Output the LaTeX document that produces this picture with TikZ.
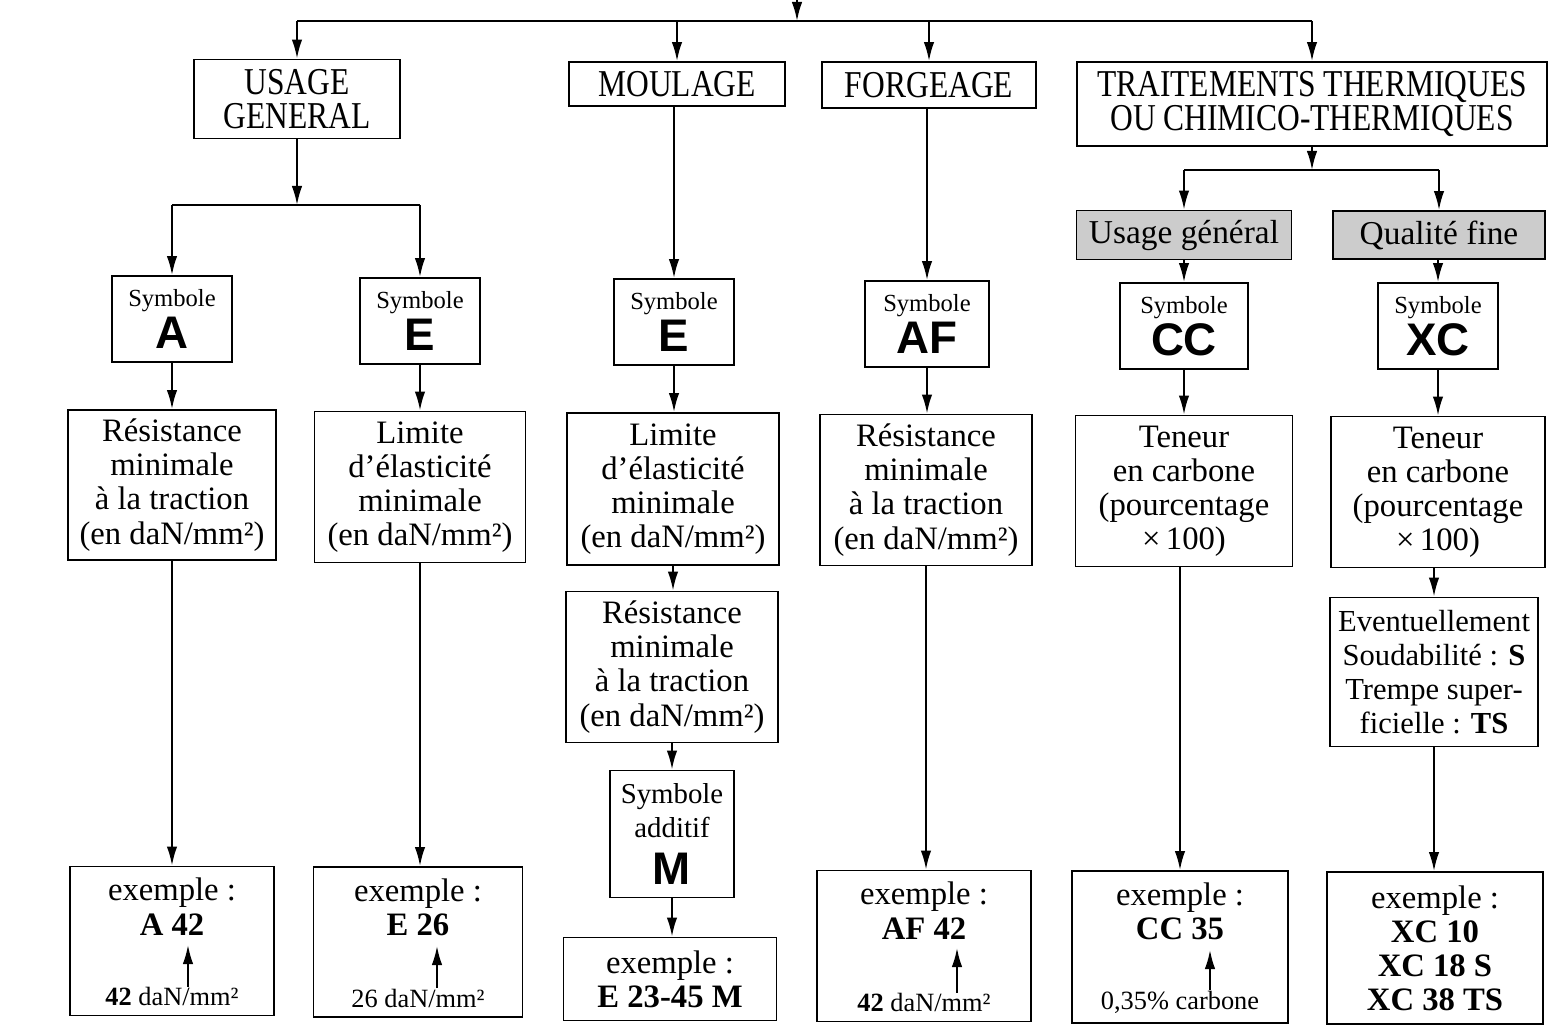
\documentclass[tikz,border=0pt]{standalone}
\usepackage{fontspec}
\setmainfont{Liberation Serif}
\setsansfont{Liberation Sans}
\newfontfamily\condfont{Liberation Serif}[FakeStretch=0.83]
\usetikzlibrary{arrows.meta,positioning}

\newcommand{\symb}[1]{{\fontsize{13}{12}\selectfont\sffamily\bfseries #1}}

\begin{document}
\begin{tikzpicture}[x=0.1mm,y=-0.1mm,
    box/.style={draw, line width=0.55pt, align=center, inner sep=0pt, font=\fontsize{9.3}{9.7}\selectfont},
    headbox/.style={box, font=\condfont\fontsize{10.8}{9.7}\selectfont},
    symbox/.style={box, minimum width=12mm, minimum height=8.6mm, font=\fontsize{7}{12}\selectfont},
    greybox/.style={box, fill=black!20, font=\fontsize{9.5}{10}\selectfont},
    txt/.style={align=center, inner sep=0pt, font=\fontsize{9.3}{9.7}\selectfont},
    note/.style={inner sep=0pt, font=\fontsize{7.5}{9}\selectfont},
    arr/.style={-{Latex[length=1.9mm,width=1.05mm]}, line width=0.55pt},
    bus/.style={line width=0.55pt}]
      \useasboundingbox (0,0) rectangle (1548,1033);

      % Top level
      \coordinate (src) at (797,0);
      \coordinate (topbus) at (797,21);
      \node[headbox, minimum width=20.6mm, minimum height=7.9mm] (usage) at (297,99) {USAGE\\GENERAL};
      \node[headbox, minimum width=21.6mm, minimum height=4.4mm] (moulage) at (677,84) {MOULAGE};
      \node[headbox, minimum width=21.4mm, minimum height=4.6mm] (forgeage) at (929,85) {FORGEAGE};
      \node[headbox, minimum width=47mm, minimum height=8.4mm] (traitement) at (1312,104) {TRAITEMENTS THERMIQUES\\OU CHIMICO-THERMIQUES};

      \draw[arr] (src) -- (topbus);
      \draw[bus] (usage.north |- topbus) -- (traitement.north |- topbus);
      \foreach \n in {usage,moulage,forgeage,traitement}
        \draw[arr] (\n.north |- topbus) -- (\n.north);

      % Traitements split
      \coordinate (tbus) at (1312,170);
      \node[greybox, minimum width=21.5mm, minimum height=4.9mm] (ugen) at (1184,235) {Usage général};
      \node[greybox, minimum width=21.2mm, minimum height=4.8mm] (qfine) at (1439,235) {Qualité fine};
      \draw[arr] (traitement.south) -- (tbus);
      \draw[bus] (ugen.north |- tbus) -- (qfine.north |- tbus);
      \draw[arr] (ugen.north |- tbus) -- (ugen.north);
      \draw[arr] (qfine.north |- tbus) -- (qfine.north);

      % Symbol boxes
      \coordinate (ubus) at (297,205);
      \node[symbox] (symA) at (172,319) {Symbole\\\symb{A}};
      \node[symbox] (symE) at (420,321) {Symbole\\\symb{E}};
      \node[symbox] (symEm) at (674,322) {Symbole\\\symb{E}};
      \node[symbox, minimum width=12.4mm] (symAF) at (927,324) {Symbole\\\symb{AF}};
      \node[symbox, minimum width=12.8mm] (symCC) at (1184,326) {Symbole\\\symb{CC}};
      \node[symbox] (symXC) at (1438,326) {Symbole\\\symb{XC}};

      \draw[arr] (usage.south) -- (ubus);
      \draw[bus] (symA.north |- ubus) -- (symE.north |- ubus);
      \draw[arr] (symA.north |- ubus) -- (symA.north);
      \draw[arr] (symE.north |- ubus) -- (symE.north);
      \draw[arr] (moulage.south -| symEm) -- (symEm.north);
      \draw[arr] (forgeage.south -| symAF) -- (symAF.north);
      \draw[arr] (ugen.south) -- (symCC.north);
      \draw[arr] (qfine.south -| symXC) -- (symXC.north);

      % Second row
      \node[box, minimum width=20.8mm, minimum height=15mm] (resA) at (172,485) {Résistance\\minimale\\à la traction\\(en daN/mm²)};
      \node[box, minimum width=21.1mm, minimum height=15.1mm] (limE) at (420,487) {Limite\\d’élasticité\\minimale\\(en daN/mm²)};
      \node[box, minimum width=21.2mm, minimum height=15.2mm] (limEm) at (673,489) {Limite\\d’élasticité\\minimale\\(en daN/mm²)};
      \node[box, minimum width=21.2mm, minimum height=15.1mm] (resAF) at (926,490) {Résistance\\minimale\\à la traction\\(en daN/mm²)};
      \node[box, minimum width=21.7mm, minimum height=15.1mm] (tenCC) at (1184,491) {Teneur\\en carbone\\(pourcentage\\×\,100)};
      \node[box, minimum width=21.4mm, minimum height=15.1mm] (tenXC) at (1438,492) {Teneur\\en carbone\\(pourcentage\\×\,100)};

      \foreach \a/\b in {symA/resA,symE/limE,symEm/limEm,symAF/resAF,symCC/tenCC,symXC/tenXC}
        \draw[arr] (\a.south) -- (\a.south |- \b.north);

      % Moulage and XC columns
      \node[box, minimum width=21.2mm, minimum height=15.1mm] (resEm) at (672,667) {Résistance\\minimale\\à la traction\\(en daN/mm²)};
      \node[box, minimum width=12.4mm, minimum height=12.7mm, font=\fontsize{8.2}{9.7}\selectfont] (addM) at (672,834) {Symbole\\additif\\[1.3mm]\symb{M}};
      \node[box, minimum width=20.8mm, minimum height=14.9mm, font=\fontsize{8.7}{9.7}\selectfont] (evXC) at (1434,672) {Eventuellement\\Soudabilité : \textbf{S}\\Trempe super-\\ficielle : \textbf{TS}};

      \draw[arr] (limEm.south) -- (limEm.south |- resEm.north);
      \draw[arr] (resEm.south) -- (resEm.south |- addM.north);
      \draw[arr] (tenXC.south -| evXC) -- (evXC.north);

      % Examples
      \node[box, minimum width=20.4mm, minimum height=14.9mm] (exA) at (172,941) {};
      \node[box, minimum width=20.9mm, minimum height=15mm] (exE) at (418,942) {};
      \node[box, minimum width=21.3mm, minimum height=8.3mm] (exEm) at (670,979) {exemple :\\\textbf{E 23-45 M}};
      \node[box, minimum width=21.4mm, minimum height=15.1mm] (exAF) at (924,946) {};
      \node[box, minimum width=21.6mm, minimum height=15.2mm] (exCC) at (1180,947) {};
      \node[box, minimum width=21.6mm, minimum height=15.2mm] (exXC) at (1435,948) {exemple :\\\textbf{XC 10}\\\textbf{XC 18 S}\\\textbf{XC 38 TS}};

      \draw[arr] (resA.south) -- (resA.south |- exA.north);
      \draw[arr] (limE.south) -- (limE.south |- exE.north);
      \draw[arr] (addM.south) -- (addM.south |- exEm.north);
      \draw[arr] (resAF.south) -- (resAF.south |- exAF.north);
      \draw[arr] (tenCC.south -| exCC) -- (exCC.north);
      \draw[arr] (evXC.south) -- (evXC.south |- exXC.north);

      % Example texts
      \node[txt, below=1.2mm of exA.north] (exAa) {exemple :\\\textbf{A 42}};
      \node[note, above=1mm of exA.south] (exAb) {\textbf{42} daN/mm²};
      \coordinate (exAv) at (188,945);
      \draw[arr] (exAb.north -| exAv) -- (exAv);

      \node[txt, below=1.2mm of exE.north] (exEa) {exemple :\\\textbf{E 26}};
      \node[note, above=1mm of exE.south] (exEb) {26 daN/mm²};
      \coordinate (exEv) at (437,946);
      \draw[arr] (exEb.north -| exEv) -- (exEv);

      \node[txt, below=1.2mm of exAF.north] (exAFa) {exemple :\\\textbf{AF 42}};
      \node[note, above=1mm of exAF.south] (exAFb) {\textbf{42} daN/mm²};
      \coordinate (exAFv) at (957,948);
      \draw[arr] (exAFb.north -| exAFv) -- (exAFv);

      \node[txt, below=1.2mm of exCC.north] (exCCa) {exemple :\\\textbf{CC 35}};
      \node[note, above=1mm of exCC.south] (exCCb) {0,35\% carbone};
      \coordinate (exCCv) at (1210,950);
      \draw[arr] (exCCb.north -| exCCv) -- (exCCv);
\end{tikzpicture}
\end{document}
